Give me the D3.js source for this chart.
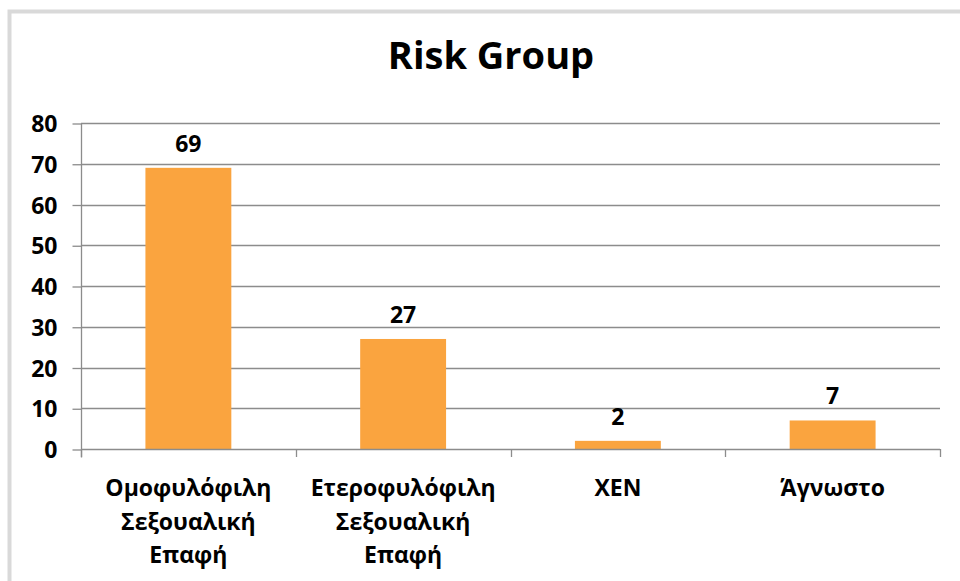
<!DOCTYPE html>
<html>
<head>
<meta charset="utf-8">
<script src="https://cdn.jsdelivr.net/npm/d3@7"></script>
<style>
  html, body { margin: 0; padding: 0; background: #fff; }
  svg { display: block; }
  text { font-family: "Open Sans", "Noto Sans", sans-serif; font-weight: bold; fill: #000; }
</style>
</head>
<body>
<svg id="chart" width="960" height="581"></svg>
<script>
// Risk group counts
const categories = [
  ["Ομοφυλόφιλη", "Σεξουαλική", "Επαφή"],
  ["Ετεροφυλόφιλη", "Σεξουαλική", "Επαφή"],
  ["XEN"],
  ["Άγνωστο"]
];
const values = [69, 27, 2, 7];
const yTicks = [0, 10, 20, 30, 40, 50, 60, 70, 80];
const title = "Risk Group";

const W = 960, H = 581;
const plot = { left: 81, right: 940, top: 123, bottom: 449 };
const FONT = "'Open Sans', 'Noto Sans', sans-serif";
const GRID = "#8c8c8c";
const svg = d3.select("#chart");

// outer frame
svg.append("rect")
  .attr("x", 9.5).attr("y", 11.5)
  .attr("width", W + 20).attr("height", H + 20)
  .attr("fill", "none").attr("stroke", "#d9d9d9").attr("stroke-width", 4);

const keys = categories.map((c, i) => i);
const x = d3.scaleBand().domain(keys)
  .range([plot.left, plot.right])
  .paddingInner(0.6).paddingOuter(0.3);
const y = d3.scaleLinear().domain([0, 80]).range([plot.bottom, plot.top]);

// horizontal gridlines
svg.append("g").selectAll("line").data(yTicks.filter(t => t > 0)).join("line")
  .attr("x1", plot.left).attr("x2", plot.right)
  .attr("y1", d => Math.round(y(d)) + 0.5).attr("y2", d => Math.round(y(d)) + 0.5)
  .attr("stroke", GRID).attr("stroke-width", 1.3);

// bars
svg.append("g").selectAll("rect").data(values).join("rect")
  .attr("x", (d, i) => x(i))
  .attr("width", x.bandwidth())
  .attr("y", d => y(d))
  .attr("height", d => y(0) - y(d))
  .attr("fill", "#faa43f");

// y axis
const yAxis = d3.axisLeft(y).tickValues(yTicks).tickSize(9).tickPadding(15).tickFormat(d3.format("d"));
const gy = svg.append("g").attr("transform", `translate(${plot.left + 0.5},0.5)`).call(yAxis);
gy.select(".domain").attr("stroke", GRID).attr("stroke-width", 1.3).attr("d", `M0,${plot.top}V${plot.bottom + 8}`);
gy.selectAll(".tick line").attr("stroke", GRID).attr("stroke-width", 1.3);
gy.selectAll(".tick text").attr("font-size", 23).attr("font-family", FONT).attr("font-weight", "bold").attr("fill", "#000").attr("dy", "0.35em");

// x axis baseline with category separators
const bounds = d3.range(categories.length + 1).map(i => plot.left + i * (plot.right - plot.left) / categories.length);
svg.append("line")
  .attr("x1", plot.left).attr("x2", plot.right)
  .attr("y1", Math.round(y(0)) + 0.5).attr("y2", Math.round(y(0)) + 0.5)
  .attr("stroke", GRID).attr("stroke-width", 1.3);
svg.append("g").selectAll("line").data(bounds).join("line")
  .attr("x1", d => Math.round(d) + 0.5).attr("x2", d => Math.round(d) + 0.5)
  .attr("y1", y(0)).attr("y2", y(0) + 8)
  .attr("stroke", GRID).attr("stroke-width", 1.3);

// category labels
const lab = svg.append("g").selectAll("text").data(categories).join("text")
  .attr("text-anchor", "middle")
  .attr("font-size", 23)
  .attr("x", (d, i) => x(i) + x.bandwidth() / 2)
  .attr("y", 496);
lab.selectAll("tspan").data(d => d).join("tspan")
  .attr("x", function () { return d3.select(this.parentNode).attr("x"); })
  .attr("dy", (d, i) => i === 0 ? 0 : 33.5)
  .text(d => d);

// value labels
svg.append("g").selectAll("text").data(values).join("text")
  .attr("text-anchor", "middle")
  .attr("font-size", 23)
  .attr("x", (d, i) => x(i) + x.bandwidth() / 2)
  .attr("y", d => y(d) - 16)
  .text(d => d);

// title
svg.append("text")
  .attr("x", 491).attr("y", 69)
  .attr("text-anchor", "middle")
  .attr("font-size", 38)
  .text(title);
</script>
</body>
</html>
